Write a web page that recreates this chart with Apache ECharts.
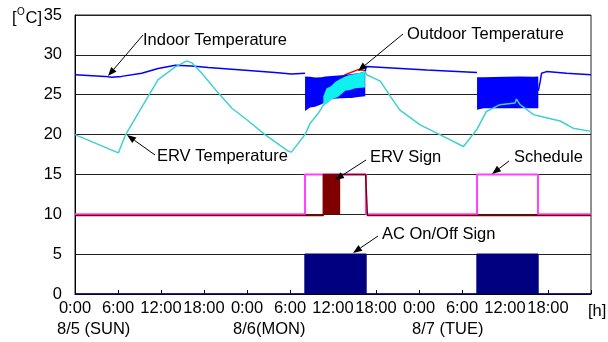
<!DOCTYPE html>
<html>
<head>
<meta charset="utf-8">
<script src="https://cdn.jsdelivr.net/npm/echarts@6/dist/echarts.min.js"></script>
<style>
  html, body { margin: 0; padding: 0; background: #fff; }
  #chart { width: 608px; height: 342px; }
</style>
</head>
<body>
<div id="chart"></div>
<script>
// hours counted from 8/5 0:00
var hourTicks = [0, 6, 12, 18, 24, 30, 36, 42, 48, 54, 60, 66, 72]
var dayLabels = ['8/5 (SUN)', '8/6(MON)', '8/7 (TUE)']

// indoor temperature, AC off parts (null = AC running, see bands)
var indoorHours = [0, 4.2, 5.1, 6.5, 9.3, 11.6, 14, 16.3, 18.6, 23.3, 27.9, 30.2, 32.1, 36,
  40.5, 40.6, 49.1, 56.1, 60, 64.65, 64.9, 65.1, 65.8, 68.6, 72]
var indoorTemp = [27.5, 27.3, 27.2, 27.3, 27.7, 28.3, 28.7, 28.6, 28.4, 28.1, 27.8, 27.6, 27.7, null,
  27.9, 28.55, 28.1, 27.8, null, 25.5, 26.6, 27.7, 27.9, 27.7, 27.5]

// indoor temperature while AC cycles on/off (envelope)
var indoorBand1Hours = [32.1, 32.8, 33.5, 34.4, 34.9, 35.8, 37.2, 38.1, 38.6, 39.5, 40.5]
var indoorBand1Low = [22.95, 23.4, 23.5, 23.8, 24.1, 24.5, 24.55, 24.6, 24.6, 24.7, 24.8]
var indoorBand1High = [27.3, 27.25, 27.15, 27.2, 27.3, 27.35, 27.45, 27.55, 27.6, 27.7, 27.9]
var indoorBand2Hours = [56.1, 57, 60, 62, 64, 64.65]
var indoorBand2Low = [23.1, 23.3, 23.3, 23.3, 23.3, 23.3]
var indoorBand2High = [27.2, 27.2, 27.25, 27.3, 27.25, 27.3]

// ERV (supply) temperature
var ervHours = [0, 6.05, 7.07, 9.3, 11.6, 14, 15.6, 16.3, 17.7, 20, 21.9, 24.2, 26.5, 29.8, 30.2,
  32.1, 32.8, 33.9, 34.65, 40.5, 40.7, 42.6, 44, 45.3, 48.1, 50.9, 54.2, 56.05, 57.4, 59.3,
  61.4, 61.6, 62.1, 64, 64.9, 67.7, 69.5, 72]
var ervTemp = [20, 17.7, 20, 23.4, 26.9, 28.5, 29.25, 29.0, 27.7, 25.2, 23.3, 21.7, 20, 17.9, 17.8,
  20, 21.4, 22.6, 23.7, 27.9, 27.5, 26.7, 24.8, 23.1, 21.25, 20, 18.5, 20.6, 22.9, 23.75,
  23.95, 24.45, 23.75, 22.5, 22.3, 21.7, 20.8, 20.4]
var ervBandHours = [34.65, 35.1, 35.35, 35.6, 36.1, 36.3, 36.75, 37.7, 38.4, 39.1, 39.5, 40.45]
var ervBandLow = [23.7, 23.9, 24.1, 24.3, 24.55, 24.6, 24.76, 25.5, 25.6, 25.8, 25.85, 25.9]
var ervBandHigh = [24.8, 25.8, 25.9, 26.0, 26.4, 26.6, 26.85, 27.3, 27.5, 27.6, 27.7, 27.9]

// outdoor temperature (elsewhere hidden under the ERV line)
var outdoorHours = [34.65, 36, 37.7, 39.5, 40.5]
var outdoorTemp = [24.8, 26.4, 27.5, 28.15, 28.0]

// signals
var scheduleHours = [0, 32.1, 32.1, 40.6, 40.6, 56.1, 56.1, 64.6, 64.6, 72]
var scheduleSign = [10, 10, 15, 15, 10, 10, 15, 15, 10, 10]
var ervSignHours = [0, 34.65, 34.65, 40.55, 40.8, 72]
var ervSign = [9.85, 9.85, 15, 15, 9.85, 9.85]
var ervSignBandHours = [34.65, 37.0]
var ervSignBandLow = [10, 10]
var ervSignBandHigh = [15, 15]
var acHours = [0, 32.1, 32.1, 40.6, 40.6, 56.1, 56.1, 64.6, 64.6, 72]
var acSign = [0, 0, 5, 5, 0, 0, 5, 5, 0, 0]

var FONT = '"Liberation Sans", Arial, sans-serif'
var FS = 16.5

function pairs(xs, ys) {
  return xs.map(function(x, i) { return [x, ys[i] == null ? '-' : ys[i]] })
}

function line(name, xs, ys, color, width, z) {
  return {
    name: name, type: 'line', z: z, data: pairs(xs, ys),
    showSymbol: false, symbol: 'none', silent: true,
    lineStyle: { color: color, width: width }
  }
}

// filled envelope between low and high
function band(name, xs, lo, hi, color, z) {
  return {
    name: name, type: 'custom', z: z, silent: true,
    data: xs.map(function(x, i) { return [x, lo[i], hi[i]] }),
    encode: { x: 0, y: [1, 2] },
    renderItem: function(params, api) {
      if (params.dataIndexInside !== 0) return
      var n = params.dataInsideLength, top = [], bot = []
      for (var i = 0; i < n; i++) {
        top.push(api.coord([api.value(0, i), api.value(2, i)]))
        bot.unshift(api.coord([api.value(0, i), api.value(1, i)]))
      }
      return { type: 'polygon', shape: { points: top.concat(bot) }, style: { fill: color } }
    }
  }
}

function text(str, x, y, size, align) {
  return {
    type: 'text', z: 100, silent: true,
    style: { text: str, x: x, y: y, font: (size || FS) + 'px ' + FONT, fill: '#000',
      textAlign: align || 'left', textVerticalAlign: 'middle' }
  }
}

function arrow(x1, y1, x2, y2) {
  var dx = x2 - x1, dy = y2 - y1, len = Math.sqrt(dx * dx + dy * dy)
  var ux = dx / len, uy = dy / len, hl = 9, hw = 3.5
  var bx = x2 - ux * hl, by = y2 - uy * hl
  return [
    { type: 'line', z: 100, silent: true, shape: { x1: x1, y1: y1, x2: bx, y2: by },
      style: { stroke: '#000', lineWidth: 1 } },
    { type: 'polygon', z: 100, silent: true,
      shape: { points: [[x2, y2], [bx - uy * hw, by + ux * hw], [bx + uy * hw, by - ux * hw]] },
      style: { fill: '#000' } }
  ]
}

var graphics = [
  text('[', 12, 18), text('O', 17, 12, 10), text('C]', 25.5, 18),
  text('[h]', 588, 311),
  text(dayLabels[0], 57, 329), text(dayLabels[1], 233, 329), text(dayLabels[2], 412, 329),
  text('Indoor Temperature', 143, 40),
  text('ERV Temperature', 157, 156),
  text('Outdoor Temperature', 407, 34),
  text('ERV Sign', 370, 157),
  text('Schedule', 514, 157),
  text('AC On/Off Sign', 382, 234)
].concat(
  arrow(143, 35, 108, 76),
  arrow(155, 155, 127, 135),
  arrow(403, 34, 358, 71),
  arrow(366, 160, 335, 180),
  arrow(509, 161, 492, 174),
  arrow(378, 236, 353, 253)
)

var chart = echarts.init(document.getElementById('chart'))
chart.setOption({
  animation: false,
  backgroundColor: '#fff',
  grid: { left: 75, right: 17, top: 15, bottom: 48, show: true, borderColor: '#222', borderWidth: 1 },
  xAxis: {
    type: 'value', min: 0, max: 72, interval: 6,
    axisLine: { lineStyle: { color: '#000', width: 1 } },
    axisTick: { inside: true, length: 4, lineStyle: { color: '#000' } },
    splitLine: { show: false },
    axisLabel: {
      color: '#000', fontSize: FS, fontFamily: FONT, margin: 6,
      formatter: function(v) { return v === 72 ? '' : (v % 24) + ':00' }
    }
  },
  yAxis: {
    type: 'value', min: 0, max: 35, interval: 5,
    axisLine: { show: true, lineStyle: { color: '#000', width: 1 } },
    axisTick: { show: false },
    splitLine: { lineStyle: { color: '#222', width: 1 } },
    axisLabel: { color: '#000', fontSize: FS, fontFamily: FONT, margin: 13 }
  },
  series: [
    line('Outdoor Temperature', outdoorHours, outdoorTemp, '#ff0000', 1.5, 2),
    line('Indoor Temperature', indoorHours, indoorTemp, '#0000ff', 1.5, 3),
    band('Indoor Temperature (AC)', indoorBand1Hours, indoorBand1Low, indoorBand1High, '#0000ff', 4),
    band('Indoor Temperature (AC)', indoorBand2Hours, indoorBand2Low, indoorBand2High, '#0000ff', 4),
    line('ERV Temperature', ervHours, ervTemp, '#40d0d0', 1.5, 5),
    band('ERV Temperature (ERV)', ervBandHours, ervBandLow, ervBandHigh, '#10f0f0', 6),
    line('Schedule', scheduleHours, scheduleSign, '#ff40ff', 2, 7),
    line('ERV Sign', ervSignHours, ervSign, '#800000', 1.5, 8),
    band('ERV Sign (cycling)', ervSignBandHours, ervSignBandLow, ervSignBandHigh, '#800000', 8),
    {
      name: 'AC On/Off Sign', type: 'line', z: 9, data: pairs(acHours, acSign),
      showSymbol: false, symbol: 'none', silent: true,
      lineStyle: { color: '#000080', width: 1.5 },
      areaStyle: { color: '#000080', opacity: 1 }
    }
  ],
  graphic: graphics
})
</script>
</body>
</html>
